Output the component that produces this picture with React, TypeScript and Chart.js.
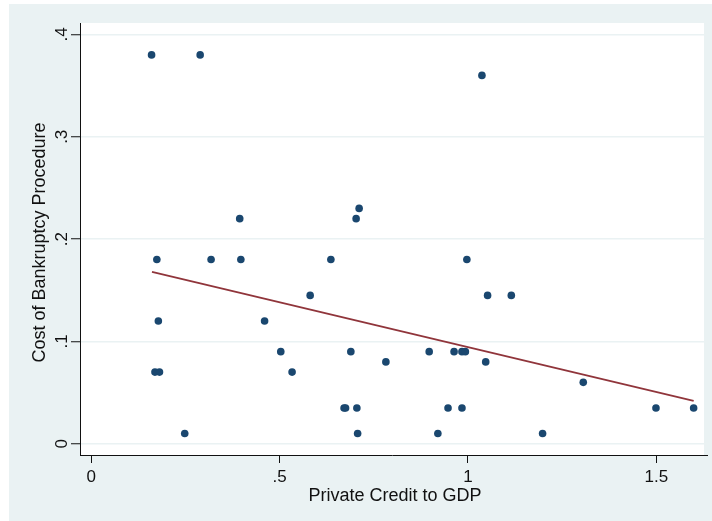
import { useEffect, useRef } from "react";
import { Chart, registerables } from "chart.js";

Chart.register(...registerables);

// Private credit to GDP (x) and cost of bankruptcy procedure (y), one entry per country
const creditToGdp = [
  0.160, 0.289, 1.037, 0.394, 0.703, 0.711, 0.174, 0.318, 0.397, 0.636,
  0.997, 0.581, 1.052, 1.115, 0.178, 0.460, 0.503, 0.689, 0.897, 0.963,
  0.984, 0.993, 0.782, 1.047, 0.169, 0.181, 0.533, 1.306, 0.671, 0.675,
  0.705, 0.947, 0.984, 1.499, 1.599, 0.248, 0.707, 0.920, 1.198,
];
const bankruptcyCost = [
  0.38, 0.38, 0.36, 0.22, 0.22, 0.23, 0.18, 0.18, 0.18, 0.18,
  0.18, 0.145, 0.145, 0.145, 0.12, 0.12, 0.09, 0.09, 0.09, 0.09,
  0.09, 0.09, 0.08, 0.08, 0.07, 0.07, 0.07, 0.06, 0.035, 0.035,
  0.035, 0.035, 0.035, 0.035, 0.035, 0.01, 0.01, 0.01, 0.01,
];

// Linear fit, drawn across the observed range of x
const fitX = [0.161, 1.599];
const fitY = [0.168, 0.042];

const xTickValues = [0, 0.5, 1, 1.5];
const xTickLabels = ["0", ".5", "1", "1.5"];
const yTickValues = [0, 0.1, 0.2, 0.3, 0.4];
const yTickLabels = ["0", ".1", ".2", ".3", ".4"];

const xTitle = "Private Credit to GDP";
const yTitle = "Cost of Bankruptcy Procedure";

const FONT = '"Liberation Sans", Arial, Helvetica, sans-serif';
const REGION = "#EAF2F3";
const NAVY = "#1A476F";
const MAROON = "#90353B";
const AXIS = "#111111";
const TEXT = "#111111";

const framePlugin = {
  id: "stataFrame",
  beforeDraw(chart: any) {
    const { ctx, width, height, chartArea: a } = chart;
    ctx.save();
    ctx.fillStyle = "#ffffff";
    ctx.fillRect(0, 0, width, height);
    ctx.fillStyle = REGION;
    ctx.fillRect(9, 4, width - 9, height - 4);
    ctx.fillStyle = "#ffffff";
    ctx.fillRect(a.left, a.top, a.right - a.left, a.bottom - a.top);
    ctx.restore();
  },
  afterDraw(chart: any) {
    const { ctx, chartArea: a, scales } = chart;
    const y = scales.y;
    ctx.save();
    ctx.fillStyle = TEXT;
    ctx.textAlign = "center";
    ctx.textBaseline = "alphabetic";

    // rotated y tick labels
    ctx.font = `17px ${FONT}`;
    yTickValues.forEach((v, i) => {
      const py = y.getPixelForValue(v);
      ctx.save();
      ctx.translate(a.left - 13.5, py);
      ctx.rotate(-Math.PI / 2);
      ctx.fillText(yTickLabels[i], 0, 0);
      ctx.restore();
    });

    // axis titles
    ctx.font = `18px ${FONT}`;
    ctx.save();
    ctx.translate(a.left - 35, (a.top + a.bottom) / 2 + 3.5);
    ctx.rotate(-Math.PI / 2);
    ctx.fillText(yTitle, 0, 0);
    ctx.restore();
    ctx.fillText(xTitle, (a.left + a.right) / 2 + 3, a.bottom + 46);

    // x axis line runs slightly past the plot region
    ctx.strokeStyle = AXIS;
    ctx.lineWidth = 1;
    ctx.beginPath();
    ctx.moveTo(a.right - 1, a.bottom + 0.5);
    ctx.lineTo(a.right + 4, a.bottom + 0.5);
    ctx.stroke();
    ctx.restore();
  },
};

export default function App() {
  const canvasRef = useRef<HTMLCanvasElement | null>(null);

  useEffect(() => {
    const canvas = canvasRef.current;
    if (!canvas) return;

    const points = creditToGdp.map((x, i) => ({ x, y: bankruptcyCost[i] }));
    const fit = fitX.map((x, i) => ({ x, y: fitY[i] }));

    const chart = new Chart(canvas, {
      type: "scatter",
      data: {
        datasets: [
          {
            type: "scatter",
            data: points,
            pointRadius: 3.8,
            pointHoverRadius: 3.8,
            backgroundColor: NAVY,
            borderWidth: 0,
            order: 1,
          },
          {
            type: "line",
            data: fit,
            borderColor: MAROON,
            borderWidth: 1.8,
            pointRadius: 0,
            fill: false,
            order: 0,
          } as any,
        ],
      },
      options: {
        responsive: false,
        animation: false,
        devicePixelRatio: 1,
        events: [],
        layout: { padding: { left: 0, top: 23, right: 8, bottom: 0 } },
        plugins: {
          legend: { display: false },
          tooltip: { enabled: false },
        },
        scales: {
          x: {
            type: "linear",
            min: -0.03,
            max: 1.6265,
            afterBuildTicks: (s: any) => {
              s.ticks = xTickValues.map((v) => ({ value: v }));
            },
            afterFit: (s: any) => {
              s.height = 66;
            },
            grid: {
              drawOnChartArea: false,
              drawTicks: true,
              tickLength: 8,
              tickColor: AXIS,
              tickWidth: 1,
            },
            border: { display: true, color: AXIS, width: 1 },
            ticks: {
              padding: 4,
              color: TEXT,
              font: { family: FONT, size: 17 },
              maxRotation: 0,
              minRotation: 0,
              autoSkip: false,
              callback: (v: any) => {
                const i = xTickValues.indexOf(Number(v));
                return i >= 0 ? xTickLabels[i] : "";
              },
            },
          },
          y: {
            type: "linear",
            min: -0.011,
            max: 0.4112,
            afterBuildTicks: (s: any) => {
              s.ticks = yTickValues.map((v) => ({ value: v }));
            },
            afterFit: (s: any) => {
              s.width = 80;
            },
            grid: {
              color: REGION,
              lineWidth: 1.5,
              drawTicks: true,
              tickLength: 9,
              tickColor: AXIS,
              tickWidth: 1,
            },
            border: { display: true, color: AXIS, width: 1 },
            ticks: { display: false },
          },
        },
      } as any,
      plugins: [framePlugin],
    });

    return () => chart.destroy();
  }, []);

  return (
    <div style={{ position: "fixed", left: 0, top: 0, width: 712, height: 521 }}>
      <canvas ref={canvasRef} width={712} height={521} style={{ display: "block" }} />
    </div>
  );
}
